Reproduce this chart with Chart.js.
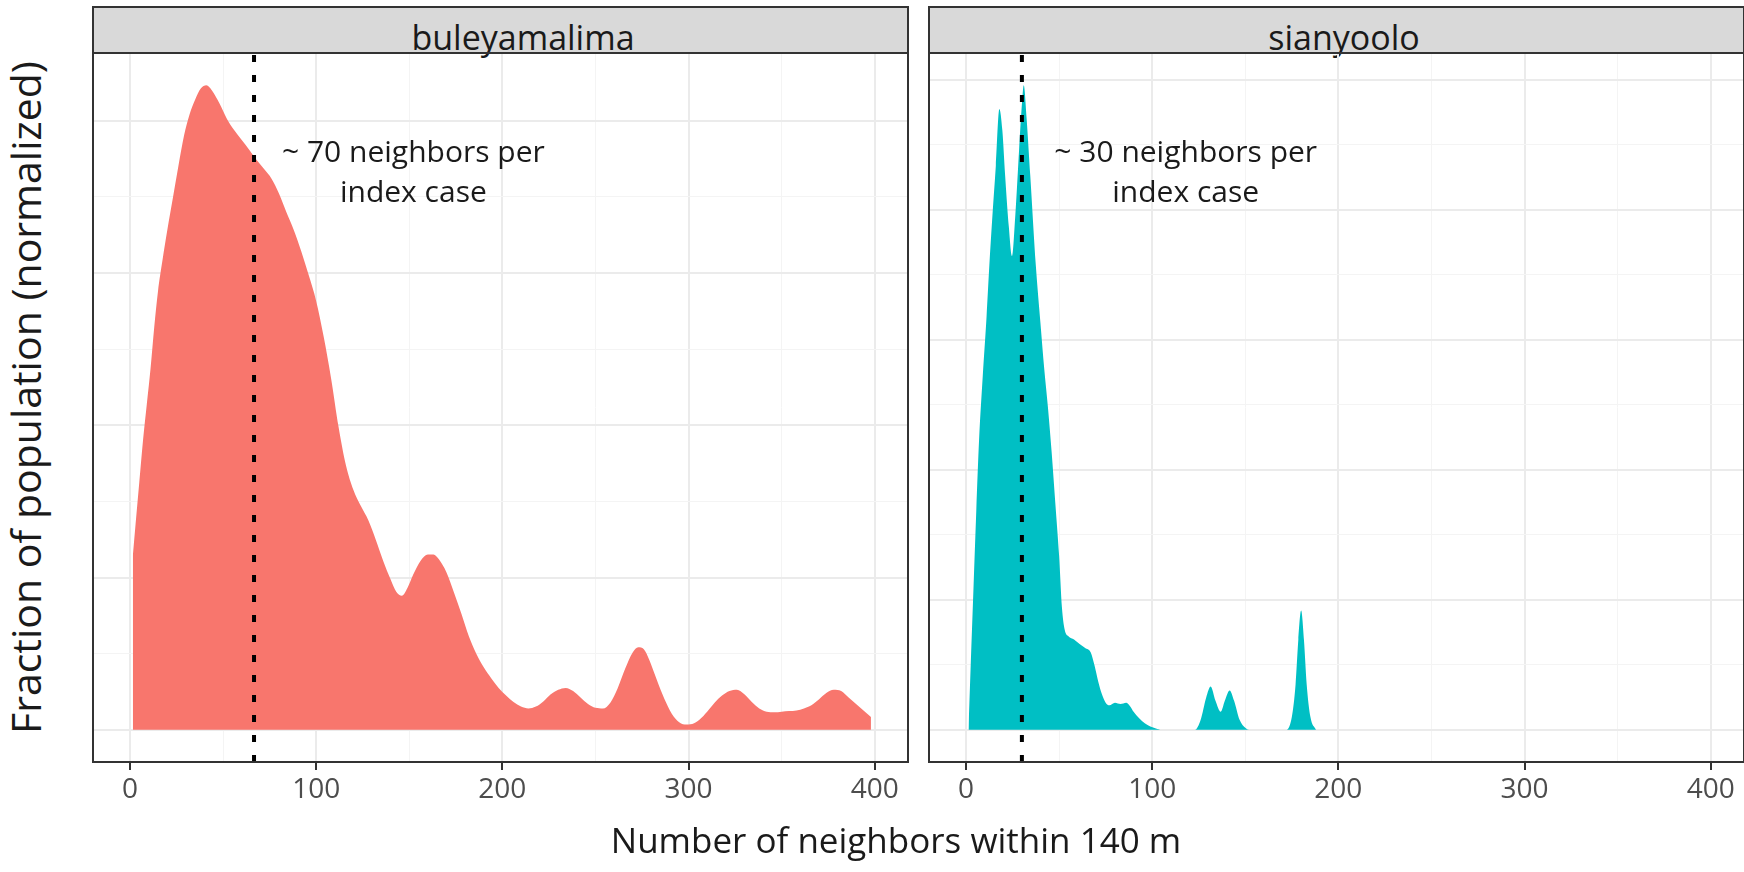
<!DOCTYPE html>
<html>
<head>
<meta charset="utf-8">
<script src="https://cdn.jsdelivr.net/npm/chart.js@4.4.1/dist/chart.umd.min.js"></script>
<style>
  body { margin: 0; background: #fff; width: 1744px; height: 872px; overflow: hidden; position: relative; font-family: "Open Sans", sans-serif; color: #1a1a1a; }
  canvas { position: absolute; }
  .strip { position: absolute; top: 6px; height: 48px; box-sizing: border-box; background: #d9d9d9; border: 2px solid #333; border-bottom: 0; }
  .lbl { position: absolute; line-height: 1; white-space: nowrap; }
  #ytitle { transform: rotate(-90deg); text-align: center; width: 760px; }
</style>
</head>
<body>
<div class="strip" style="left:92px; width:817px;"></div>
<div class="strip" style="left:928px; width:817px;"></div>
<span class="lbl" style="font-size:34px; top:20px; left:523px; transform:translateX(-50%);">buleyamalima</span>
<span class="lbl" style="font-size:34px; top:20px; left:1344px; transform:translateX(-50%);">sianyoolo</span>
<canvas id="leftPanel"></canvas>
<canvas id="rightPanel"></canvas>
<span class="lbl" style="font-size:35px; top:822px; left:896px; transform:translateX(-50%);">Number of neighbors within 140 m</span>
<span class="lbl" id="ytitle" style="font-size:41px; left:-355px; top:377px;">Fraction of population (normalized)</span>

<script>
// --- données ---
const xTickLabels = [0, 100, 200, 300, 400];
const xGridValues = [0, 50, 100, 150, 200, 250, 300, 350, 400];

// buleyamalima (densité normalisée, pic = 1)
const buleX = [1.5, 3, 5, 7, 9, 11, 13, 15, 17.5, 20, 23, 26, 29, 32, 35, 38, 41, 44, 48, 52, 56, 60, 64, 68, 72, 76,
  80, 84, 88, 92, 96, 100, 104, 108, 112, 116, 120, 124, 128, 132, 136, 140, 143, 146, 149, 152, 156, 160, 163, 166,
  170, 174, 178, 182, 186, 190, 194, 198, 202, 206, 210, 214, 218, 222, 226, 230, 234, 238, 242, 246, 250, 254, 258,
  262, 266, 270, 273, 276, 279, 282, 286, 290, 294, 298, 302, 306, 310, 314, 318, 322, 326, 330, 334, 338, 342, 346,
  350, 354, 358, 362, 366, 370, 374, 378, 382, 386, 390, 394, 398];
const buleY = [0.27, 0.32, 0.385, 0.45, 0.505, 0.56, 0.625, 0.68, 0.73, 0.775, 0.825, 0.875, 0.922, 0.955, 0.978, 0.995,
  1.0, 0.992, 0.972, 0.948, 0.93, 0.915, 0.9, 0.884, 0.87, 0.855, 0.832, 0.803, 0.775, 0.742, 0.705, 0.665, 0.61, 0.545,
  0.47, 0.41, 0.372, 0.347, 0.325, 0.295, 0.262, 0.233, 0.214, 0.208, 0.22, 0.24, 0.262, 0.272, 0.272, 0.264, 0.244,
  0.213, 0.18, 0.145, 0.118, 0.097, 0.08, 0.065, 0.053, 0.043, 0.036, 0.033, 0.036, 0.044, 0.055, 0.062, 0.065, 0.06,
  0.05, 0.04, 0.034, 0.033, 0.042, 0.065, 0.095, 0.12, 0.128, 0.125, 0.108, 0.085, 0.055, 0.03, 0.014, 0.008, 0.009,
  0.016, 0.028, 0.042, 0.053, 0.06, 0.062, 0.055, 0.043, 0.033, 0.028, 0.027, 0.028, 0.029, 0.03, 0.033, 0.038, 0.047,
  0.057, 0.062, 0.06, 0.05, 0.04, 0.03, 0.02];

// sianyoolo
const sianX = [1.3, 2.5, 4, 5.5, 7, 9, 11, 12.5, 14, 16, 17.9, 19.5, 21, 23, 24.7, 26.5, 28.5, 30, 31, 32.5, 34.5, 37.5,
  40, 42, 44, 46, 48, 50, 51.5, 53, 55, 58, 61, 64, 67, 69, 71, 73, 75, 77, 80, 83, 86, 88, 90, 93, 96, 99, 102, 105,
  123, 126, 129, 131.4, 134, 136.8, 139, 141.6, 144, 147, 150, 152,
  172, 175, 177, 178.5, 180, 181.5, 183, 185, 188];
const sianY = [0.0, 0.1, 0.22, 0.34, 0.45, 0.55, 0.64, 0.72, 0.79, 0.875, 0.963, 0.93, 0.86, 0.78, 0.735, 0.8, 0.9, 0.97,
  1.0, 0.95, 0.86, 0.72, 0.63, 0.56, 0.5, 0.43, 0.35, 0.27, 0.19, 0.155, 0.145, 0.14, 0.133, 0.127, 0.12, 0.1, 0.075,
  0.055, 0.042, 0.038, 0.042, 0.04, 0.042, 0.037, 0.028, 0.018, 0.01, 0.005, 0.002, 0,
  0, 0.015, 0.05, 0.067, 0.045, 0.028, 0.045, 0.061, 0.045, 0.015, 0.003, 0,
  0, 0.02, 0.07, 0.14, 0.185, 0.14, 0.07, 0.02, 0];

const buleMean = 66.6;   // ~70 voisins
const sianMean = 30;     // ~30 voisins
const buleNote = ['~ 70 neighbors per', 'index case'];
const sianNote = ['~ 30 neighbors per', 'index case'];

// --- plugin : cadre du panneau + texte d'annotation ---
const panelDecor = {
  id: 'panelDecor',
  afterDraw(chart, args, opts) {
    const { ctx, chartArea: a, scales: { x, y } } = chart;
    ctx.save();
    ctx.fillStyle = '#1a1a1a';
    ctx.font = opts.font;
    ctx.textAlign = 'center';
    ctx.textBaseline = 'alphabetic';
    opts.lines.forEach((t, i) => ctx.fillText(t, x.getPixelForValue(opts.x), y.getPixelForValue(opts.y[i])));
    ctx.strokeStyle = '#333';
    ctx.lineWidth = 2;
    ctx.strokeRect(a.left, a.top, a.right - a.left, a.bottom - a.top);
    ctx.restore();
  }
};

Chart.defaults.font.family = '"Open Sans", sans-serif';

function makePanel(id, left, xs, ys, color, meanX, yStep, note, noteX) {
  const cv = document.getElementById(id);
  cv.style.left = left + 'px';
  cv.style.top = '43px';
  cv.width = 835;
  cv.height = 779;
  cv.style.width = '835px';
  cv.style.height = '779px';

  const yMin = -0.05, yMax = 1.05;
  const yGrid = [];
  for (let v = 0; v < yMax; v += yStep) yGrid.push(+v.toFixed(4));

  return new Chart(cv, {
    type: 'line',
    data: {
      datasets: [
        {
          data: [{ x: meanX, y: yMin }, { x: meanX, y: yMax }],
          borderColor: '#000',
          borderWidth: 4,
          borderDash: [7, 13],
          pointRadius: 0,
          fill: false,
          order: 0
        },
        {
          data: xs.map((v, i) => ({ x: v, y: ys[i] })),
          backgroundColor: color,
          borderColor: 'rgba(0,0,0,0)',
          borderWidth: 0,
          pointRadius: 0,
          fill: 'origin',
          cubicInterpolationMode: 'monotone',
          order: 1
        }
      ]
    },
    options: {
      responsive: false,
      animation: false,
      layout: { padding: { left: 10, right: 10, top: 10, bottom: 0 } },
      plugins: {
        legend: { display: false },
        tooltip: { enabled: false },
        panelDecor: { font: '30px "Open Sans"', lines: note, x: noteX, y: [0.8815, 0.8194] }
      },
      scales: {
        x: {
          type: 'linear',
          min: -19.9,
          max: 417.9,
          afterBuildTicks: s => { s.ticks = xGridValues.map(v => ({ value: v })); },
          afterFit: s => { s.height = 60; },
          border: { display: false },
          grid: {
            color: c => (c.tick && c.tick.value % 100 === 0) ? '#ebebeb' : '#f4f4f4',
            lineWidth: c => (c.tick && c.tick.value % 100 === 0) ? 2 : 1,
            tickColor: c => (c.tick && c.tick.value % 100 === 0) ? '#333' : 'rgba(0,0,0,0)',
            tickLength: 8,
            tickWidth: 2
          },
          ticks: {
            autoSkip: false,
            maxRotation: 0,
            padding: 3,
            color: '#4d4d4d',
            font: { size: 28 },
            callback: v => xTickLabels.includes(v) ? String(v) : ''
          }
        },
        y: {
          min: yMin,
          max: yMax,
          afterBuildTicks: s => { s.ticks = yGrid.map(v => ({ value: v })); },
          afterFit: s => { s.width = 0; },
          border: { display: false },
          grid: {
            drawTicks: false,
            color: c => (c.index % 2 === 0) ? '#ebebeb' : '#f4f4f4',
            lineWidth: c => (c.index % 2 === 0) ? 2 : 1
          },
          ticks: { display: false }
        }
      }
    },
    plugins: [panelDecor]
  });
}

makePanel('leftPanel', 83, buleX, buleY, '#F8766D', buleMean, 0.1181, buleNote, 152.2);
makePanel('rightPanel', 919, sianX, sianY, '#00BFC4', sianMean, 0.10085, sianNote, 118);
</script>
</body>
</html>
